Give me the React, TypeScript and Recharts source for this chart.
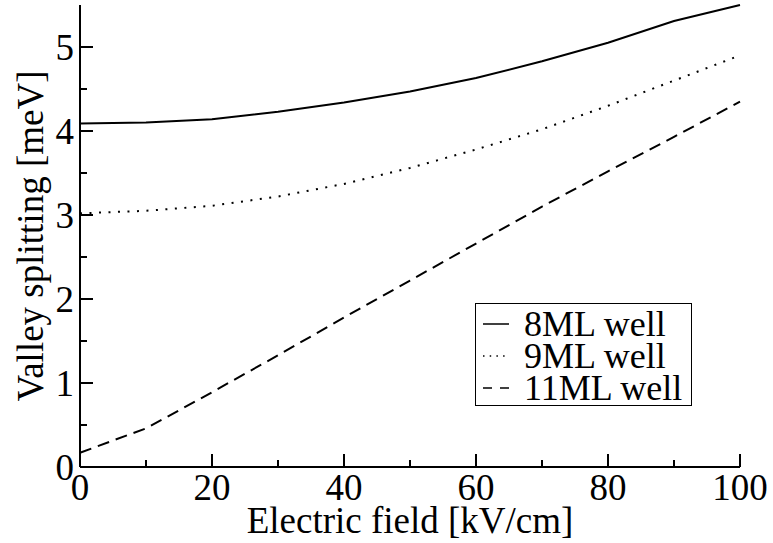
import { Legend, Line, LineChart, XAxis, YAxis } from "recharts";

const fields = [0, 10, 20, 30, 40, 50, 60, 70, 80, 90, 100];
const well8 = [4.09, 4.1, 4.14, 4.23, 4.34, 4.47, 4.63, 4.83, 5.05, 5.31, 5.5];
const well9 = [3.02, 3.05, 3.11, 3.22, 3.37, 3.56, 3.78, 4.02, 4.3, 4.6, 4.9];
const well11 = [0.17, 0.46, 0.89, 1.33, 1.78, 2.22, 2.66, 3.1, 3.52, 3.93, 4.35];

const xTicks = [0, 10, 20, 30, 40, 50, 60, 70, 80, 90, 100];
const yTicks = [0, 0.5, 1, 1.5, 2, 2.5, 3, 3.5, 4, 4.5, 5];

const seriesNames = ["8ML well", "9ML well", "11ML well"];
const seriesKeys = ["w8", "w9", "w11"];
const dashes = ["", "2 7.5", "12 7"];
const legendDashes = ["", "1.5 5.2", "9 8"];

const data = fields.map((f, i) => ({ field: f, w8: well8[i], w9: well9[i], w11: well11[i] }));

const FONT = "'Liberation Serif', 'Times New Roman', serif";
const TICK_FS = 37;
const TITLE_FS = 37;
const LEGEND_FS = 36;

const isMajorX = (v: number) => v % 20 === 0;
const isMajorY = (v: number) => Number.isInteger(v);

function BottomTick(props: any) {
  const { x, y, payload } = props;
  const major = isMajorX(payload.value);
  return (
    <g>
      <line x1={x} x2={x} y1={y} y2={y - (major ? 13 : 7)} stroke="#000" strokeWidth={2} />
      {major && (
        <text x={x} y={y + 33} textAnchor="middle" fontFamily={FONT} fontSize={TICK_FS} fill="#000">
          {payload.value}
        </text>
      )}
    </g>
  );
}

function TopTick(props: any) {
  const { x, y, payload } = props;
  const major = isMajorX(payload.value);
  return <line x1={x} x2={x} y1={y} y2={y + (major ? 13 : 7)} stroke="#000" strokeWidth={2} />;
}

function LeftTick(props: any) {
  const { x, y, payload } = props;
  const major = isMajorY(payload.value);
  return (
    <g>
      <line x1={x} x2={x + (major ? 13 : 7)} y1={y} y2={y} stroke="#000" strokeWidth={2} />
      {major && (
        <text x={x - 6} y={y + 13} textAnchor="end" fontFamily={FONT} fontSize={TICK_FS} fill="#000">
          {payload.value}
        </text>
      )}
    </g>
  );
}

function RightTick(props: any) {
  const { x, y, payload } = props;
  const major = isMajorY(payload.value);
  return <line x1={x} x2={x - (major ? 13 : 7)} y1={y} y2={y} stroke="#000" strokeWidth={2} />;
}

function YTitle(props: any) {
  const vb = props.viewBox || { x: 0, y: 5, width: 80, height: 462 };
  const cx = vb.x + 43;
  const cy = vb.y + vb.height / 2;
  return (
    <text
      x={cx}
      y={cy}
      transform={`rotate(-90 ${cx} ${cy})`}
      textAnchor="middle"
      fontFamily={FONT}
      fontSize={TITLE_FS}
      fill="#000"
    >
      Valley splitting [meV]
    </text>
  );
}

function LegendBox() {
  return (
    <div
      style={{
        border: "1.5px solid #000",
        background: "#fff",
        fontFamily: FONT,
        fontSize: LEGEND_FS,
        lineHeight: "32px",
        padding: "4px 0 3px 6px",
        boxSizing: "border-box",
        width: 217,
        height: 103,
      }}
    >
      {seriesNames.map((n, i) => (
        <div key={n} style={{ display: "flex", alignItems: "center", height: 32 }}>
          <svg width={42} height={10}>
            <line
              x1={1}
              x2={27}
              y1={5}
              y2={5}
              stroke="#000"
              strokeWidth={1.5}
              strokeDasharray={legendDashes[i] || undefined}
            />
          </svg>
          <span style={{ whiteSpace: "nowrap" }}>{n}</span>
        </div>
      ))}
    </div>
  );
}

export default function App() {
  return (
    <div style={{ position: "absolute", left: 0, top: 0, width: 773, height: 543, background: "#fff" }}>
      <LineChart width={773} height={543} data={data} margin={{ top: 5, right: 33, left: 0, bottom: 0 }}>
        <XAxis
          dataKey="field"
          type="number"
          domain={[0, 100]}
          ticks={xTicks}
          interval={0}
          height={76}
          tickSize={0}
          tickMargin={0}
          tickLine={false}
          tick={<BottomTick />}
          axisLine={{ stroke: "#000", strokeWidth: 2 }}
          label={{ value: "Electric field [kV/cm]", position: "insideBottom", offset: 10, fill: "#000", fontSize: TITLE_FS, fontFamily: FONT }}
        />
        <XAxis
          xAxisId="top"
          orientation="top"
          dataKey="field"
          type="number"
          domain={[0, 100]}
          ticks={xTicks}
          interval={0}
          height={0}
          tickSize={0}
          tickMargin={0}
          tickLine={false}
          tick={<TopTick />}
          axisLine={{ stroke: "#000", strokeWidth: 2 }}
        />
        <YAxis
          type="number"
          domain={[0, 5.5]}
          ticks={yTicks}
          interval={0}
          width={80}
          tickSize={0}
          tickMargin={0}
          tickLine={false}
          tick={<LeftTick />}
          axisLine={{ stroke: "#000", strokeWidth: 2 }}
          label={<YTitle />}
        />
        <YAxis
          yAxisId="right"
          orientation="right"
          type="number"
          domain={[0, 5.5]}
          ticks={yTicks}
          interval={0}
          width={0}
          tickSize={0}
          tickMargin={0}
          tickLine={false}
          tick={<RightTick />}
          axisLine={{ stroke: "#000", strokeWidth: 2 }}
        />
        {seriesKeys.map((k, i) => (
          <Line
            key={k}
            dataKey={k}
            name={seriesNames[i]}
            type="linear"
            stroke="#000"
            strokeWidth={2}
            strokeDasharray={dashes[i] || undefined}
            dot={false}
            isAnimationActive={false}
          />
        ))}
        <Legend
          layout="horizontal"
          verticalAlign="middle"
          align="center"
          content={<LegendBox />}
          wrapperStyle={{ left: 475, top: 303, width: 217 }}
        />
      </LineChart>
    </div>
  );
}
